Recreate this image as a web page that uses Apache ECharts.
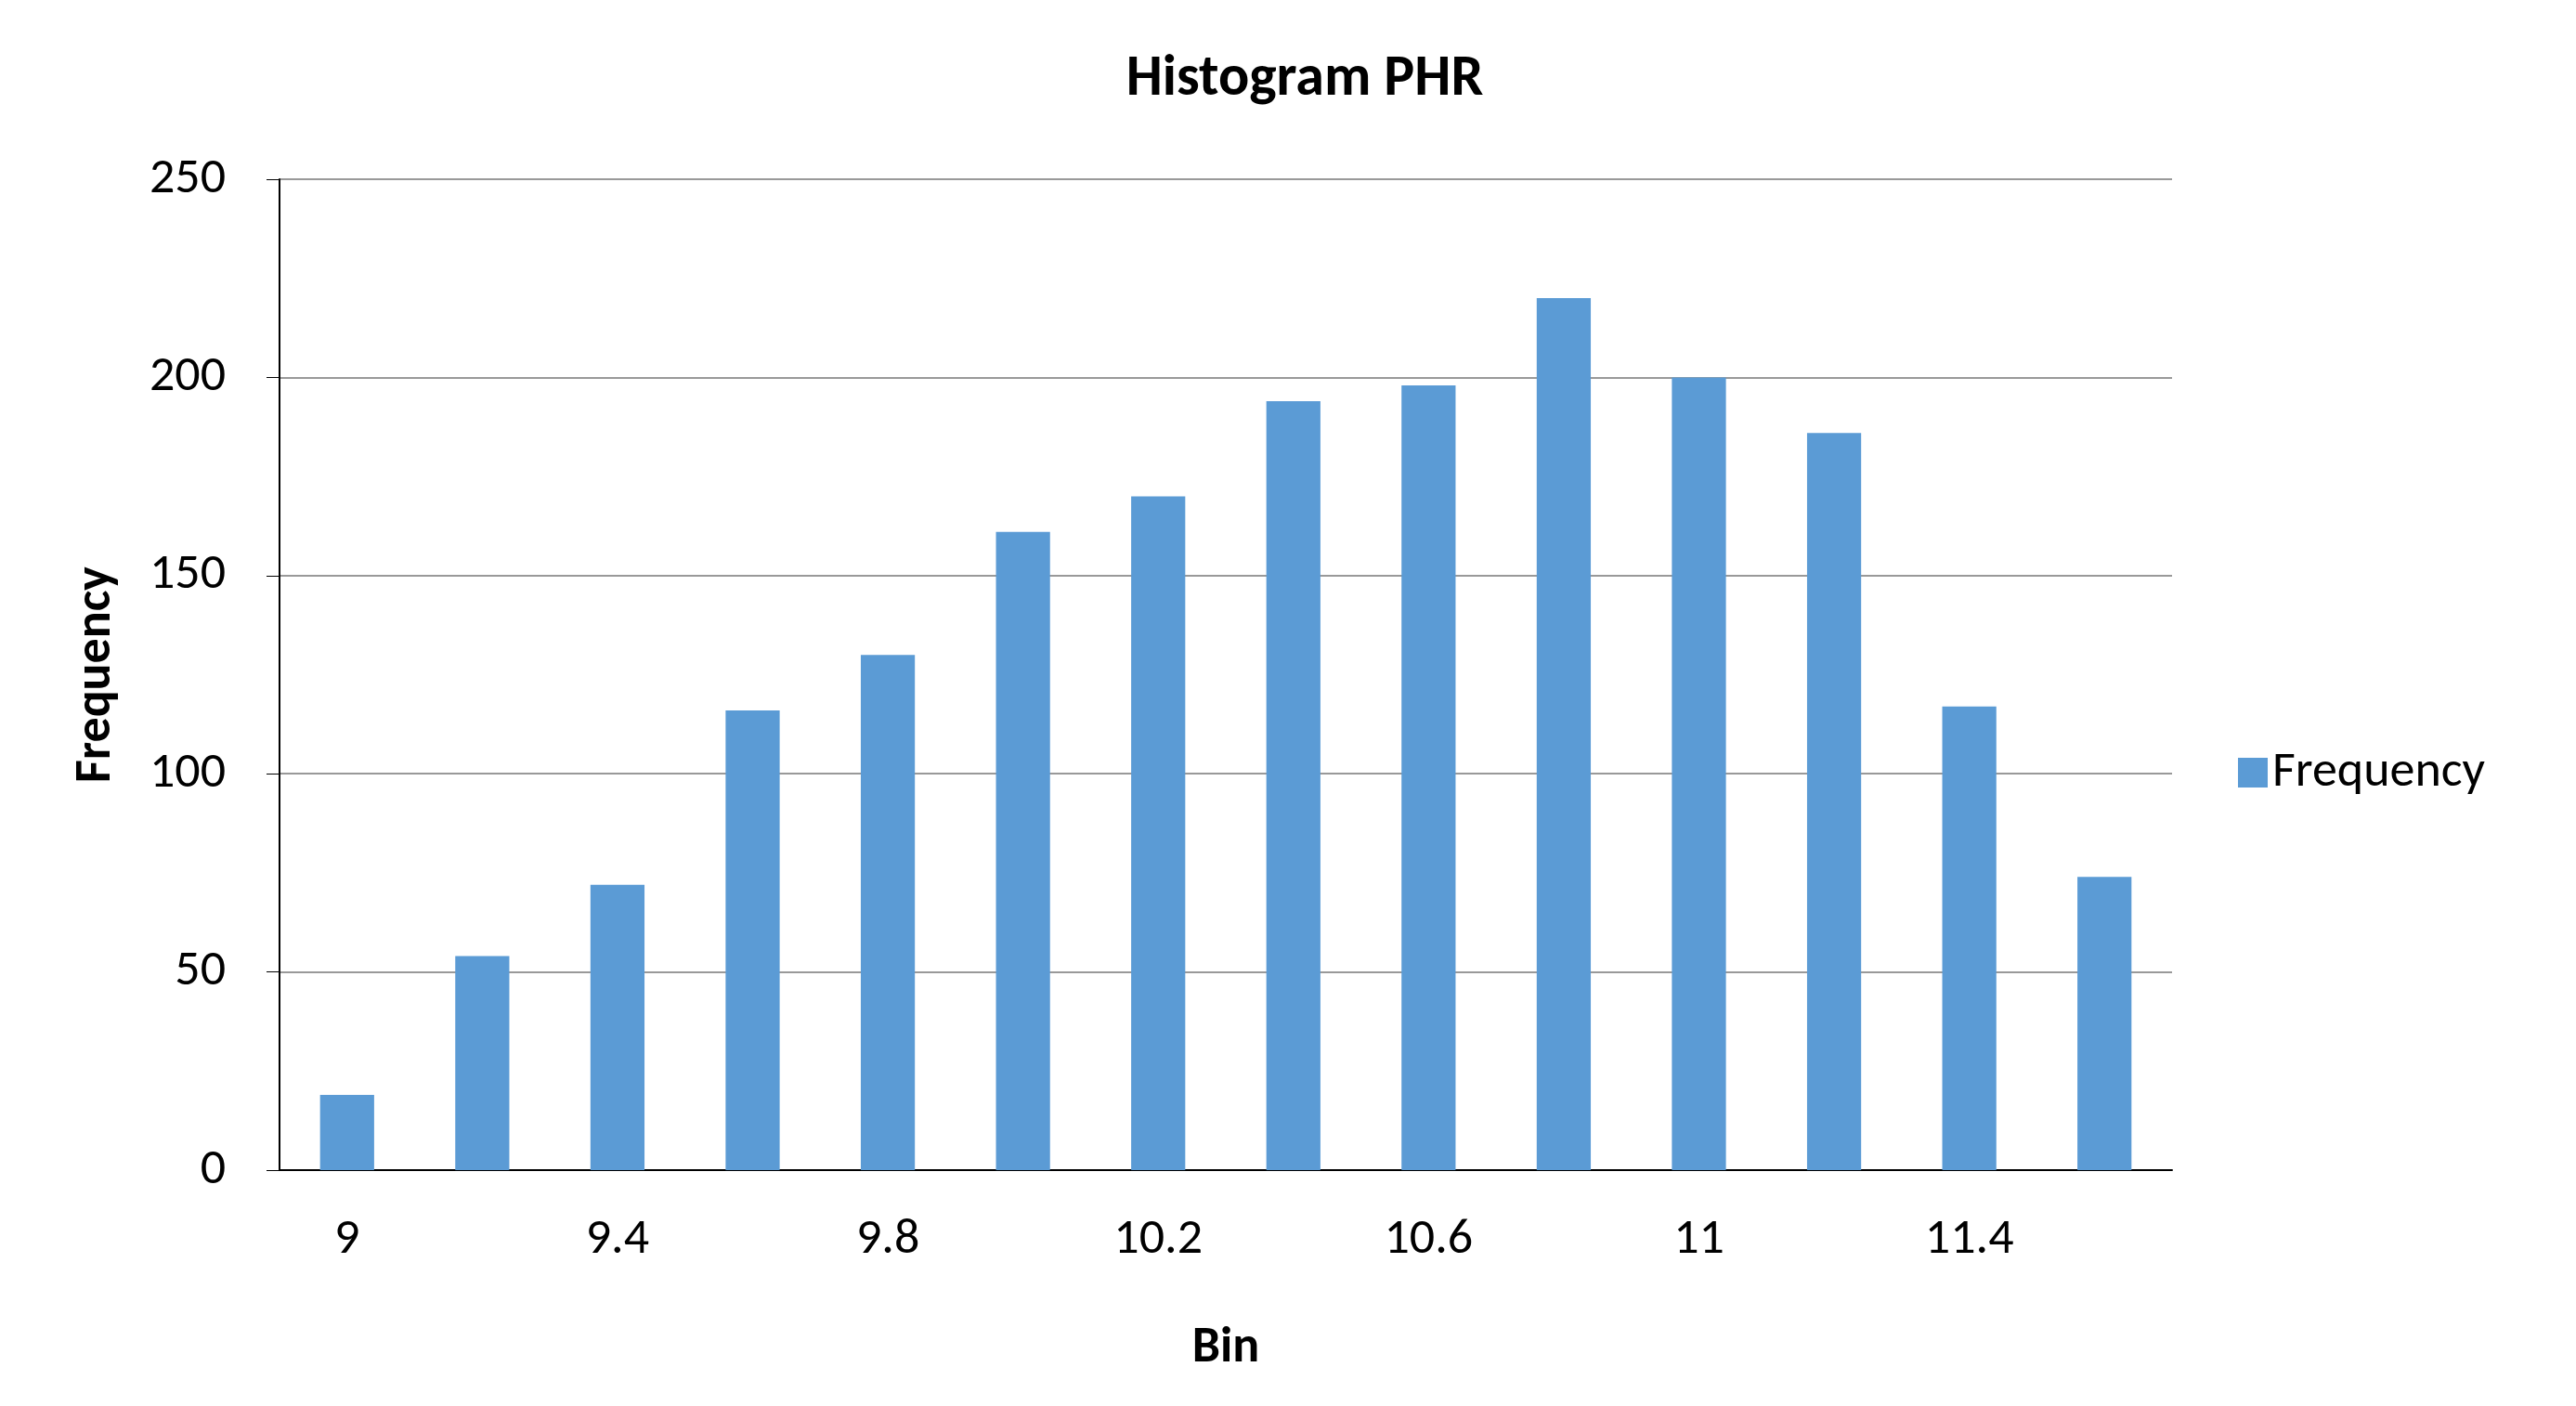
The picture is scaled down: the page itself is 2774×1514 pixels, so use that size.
<!DOCTYPE html><html><head><meta charset="utf-8">
<script src="https://cdn.jsdelivr.net/npm/echarts@6/dist/echarts.min.js"></script>
<style>html,body{margin:0;background:#fff}#c{width:2774px;height:1514px}</style></head><body><div id="c"></div>
<script>
const categories=['9','9.2','9.4','9.6','9.8','10','10.2','10.4','10.6','10.8','11','11.2','11.4','More'];
const frequency=[19,54,72,116,130,161,170,194,198,220,200,186,117,74];
const yTicks={min:0,max:250,interval:50};
const ch=echarts.init(document.getElementById('c'));
const F='Calibri, Carlito, Lato, sans-serif';
ch.setOption({
 animation:false,
 title:{text:'Histogram PHR',left:1400,top:50,textAlign:'center',textStyle:{fontFamily:F,fontSize:62,fontWeight:'bold',color:'#000'}},
 legend:{data:['Frequency'],left:2405,top:800,itemWidth:32,itemHeight:32,itemGap:16,icon:'rect',textStyle:{fontFamily:F,fontSize:54,color:'#000'}},
 grid:{left:301,right:435,top:193,bottom:254},
 xAxis:{type:'category',data:categories,name:'Bin',nameLocation:'middle',nameGap:165,
  nameTextStyle:{fontFamily:F,fontSize:54,fontWeight:'bold',color:'#000'},
  axisLine:{lineStyle:{color:'#000',width:2}},axisTick:{show:false},
  axisLabel:{fontFamily:F,fontSize:54,color:'#000',margin:48}},
 yAxis:{type:'value',...yTicks,name:'Frequency',nameLocation:'middle',nameGap:170,
  nameTextStyle:{fontFamily:F,fontSize:54,fontWeight:'bold',color:'#000'},
  axisLine:{show:true,lineStyle:{color:'#000',width:2}},axisTick:{show:true,length:14,lineStyle:{color:'#000'}},
  axisLabel:{fontFamily:F,fontSize:54,color:'#000',margin:58},
  splitLine:{lineStyle:{color:'#999',width:2}}},
 series:[{name:'Frequency',type:'bar',data:frequency,barWidth:'40%',itemStyle:{color:'#5B9BD5'}}]
});
</script></body></html>
